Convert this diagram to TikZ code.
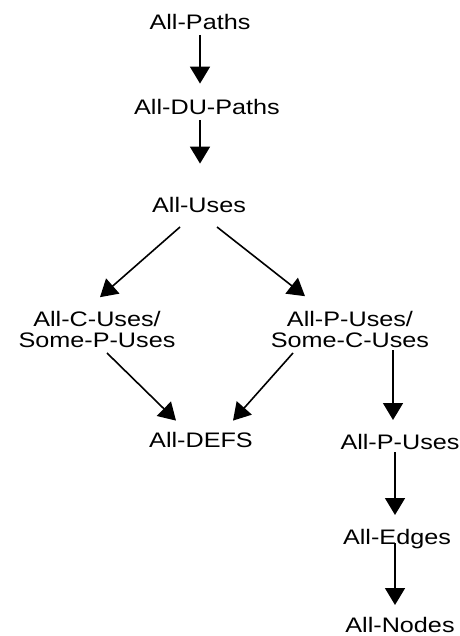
\documentclass[tikz,border=0pt]{standalone}
\usepackage{fontspec}
\setmainfont{Liberation Sans}[FakeStretch=1.2]
\usetikzlibrary{arrows.meta,calc}
\begin{document}
\begin{tikzpicture}[x=1pt,y=-1pt,
  lbl/.style={inner sep=0pt,text height=15pt,text depth=0pt,anchor=south,font=\fontsize{21}{21}\selectfont},
  lbl2/.style={inner sep=0pt,anchor=south,align=center,font=\fontsize{21}{21}\selectfont},
  arr/.style={line width=1.6pt,-{Triangle[length=17pt,width=20pt]}}]
\useasboundingbox (0,0) rectangle (459,636);
\node[lbl] (ap) at (200,30) {All-Paths};
\node[lbl] (adu) at (207,115) {All-DU-Paths};
\node[lbl] (au) at (199,213) {All-Uses};
\node[lbl2] (cu) at (97,348) {All-C-Uses/\\Some-P-Uses};
\node[lbl2] (pu) at (350,348) {All-P-Uses/\\Some-C-Uses};
\node[lbl] (defs) at (201,448) {All-DEFS};
\node[lbl] (apu) at (400,450) {All-P-Uses};
\node[lbl] (ae) at (397,545) {All-Edges};
\node[lbl] (an) at (400,633) {All-Nodes};
\draw[arr] ($(ap.south)+(0,5)$) -- ($(ap.south |- adu.north)+(0,-16)$);
\draw[arr] ($(adu.south)+(-7,5)$) -- ($(adu.north |- au.north)+(-7,-34)$);
\draw[arr] ($(au.south)+(-19,14)$) -- ($(cu.north)+(3,-14)$);
\draw[arr] ($(au.south)+(18,14)$) -- ($(pu.north)+(-45,-15)$);
\draw[arr] ($(cu.south)+(10,5)$) -- ($(defs.north)+(-25,-12)$);
\draw[arr] ($(pu.south)+(-57,5)$) -- ($(defs.north)+(32,-12)$);
\draw[arr] ($(pu.south)+(43,2)$) -- ($(pu.south)+(43,72)$);
\draw[arr] ($(apu.south)+(-5,2)$) -- ($(apu.south)+(-5,65)$);
\draw[arr] ($(ae.south)+(-2,-2)$) -- ($(ae.south)+(-2,60)$);
\end{tikzpicture}
\end{document}
